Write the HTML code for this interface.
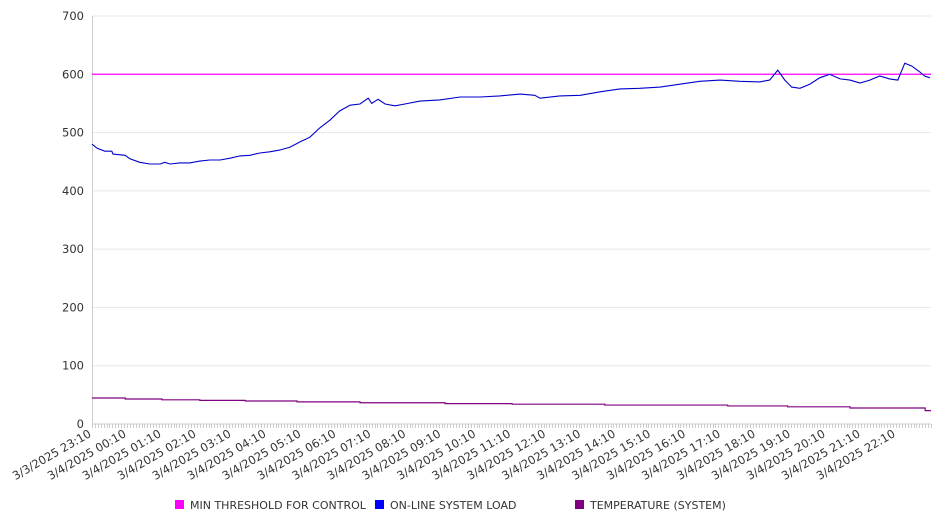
<!DOCTYPE html>
<html><head><meta charset="utf-8"><style>
html,body{margin:0;padding:0;background:#fff;}
svg{display:block;font-family:"DejaVu Sans","Liberation Sans",sans-serif;}
</style></head><body>
<svg id="chart" width="946" height="526" viewBox="0 0 946 526"></svg>
<script>
const yTicks=[0,100,200,300,400,500,600,700];
const xLabels=["3/3/2025 23:10","3/4/2025 00:10","3/4/2025 01:10","3/4/2025 02:10","3/4/2025 03:10","3/4/2025 04:10","3/4/2025 05:10","3/4/2025 06:10","3/4/2025 07:10","3/4/2025 08:10","3/4/2025 09:10","3/4/2025 10:10","3/4/2025 11:10","3/4/2025 12:10","3/4/2025 13:10","3/4/2025 14:10","3/4/2025 15:10","3/4/2025 16:10","3/4/2025 17:10","3/4/2025 18:10","3/4/2025 19:10","3/4/2025 20:10","3/4/2025 21:10","3/4/2025 22:10"];
const thresholdValue=600;
const loadTimes=[0,9,22,34,36,57,65,82,99,117,125,134,151,168,185,202,220,237,254,271,288,305,322,340,357,374,391,408,425,443,460,474,480,491,503,520,537,563,597,632,666,700,735,760,769,803,838,872,906,940,975,1009,1043,1078,1112,1146,1163,1177,1189,1201,1215,1232,1249,1266,1284,1301,1318,1335,1352,1369,1383,1395,1407,1421,1429,1438];
const loadValues=[480,473,468,468,463,461,455,449,446,446,449,446,448,448,451,453,453,456,460,461,465,467,470,475,484,492,508,521,537,547,549,559,550,557,549,546,549,554,556,561,561,563,566,564,559,563,564,570,575,576,578,583,588,590,588,587,590,607,590,578,576,583,594,600,592,590,585,590,597,592,590,619,614,604,597,594];
const tempTimes=[0,57,120,185,263,352,460,606,721,880,1091,1194,1301,1430,1440];
const tempValues=[44.6,42.9,41.5,40.5,39.5,38,36.5,35,34,32.5,31,29.5,27.5,23,23];
const ns="http://www.w3.org/2000/svg";
const svg=document.getElementById('chart');
const X0=92,X1=931,Y0=424,Y1=16;
const TMAX=1440,VMAX=700;
function xs(t){return X0+t/TMAX*(X1-X0);}
function ys(v){return Y0-v/VMAX*(Y0-Y1);}
function mk(tag,attrs){const e=document.createElementNS(ns,tag);for(const k in attrs)e.setAttribute(k,attrs[k]);svg.appendChild(e);return e;}
yTicks.forEach(v=>{
  const g=mk('line',{x1:X0,x2:X1,y1:ys(v),y2:ys(v),stroke:v===0?'#ccc':'#e8e8e8','stroke-width':1});
  
  
  const t=mk('text',{x:84,y:ys(v)+4,'text-anchor':'end','font-size':11.5,fill:'#333'});
  t.textContent=v;
  
  
});
const ax=mk('line',{x1:X0+0.5,x2:X0+0.5,y1:Y1,y2:Y0,stroke:'#ccc'});


let td='';
for(let m=0;m<=TMAX;m+=5){const x=Math.round(xs(m))+0.5;td+='M'+x+' '+Y0+'V'+(Y0+4);}
const tk=mk('path',{d:td,stroke:'#ccc','stroke-width':1});


xLabels.forEach((s,i)=>{
  const x=xs(i*60),y=436;
  const t=mk('text',{x:x,y:y,'text-anchor':'end','font-size':11.5,fill:'#333',transform:'rotate(-30 '+x+' '+y+')'});
  t.textContent=s;
  
  
});
const th=mk('line',{x1:X0,x2:X1,y1:ys(thresholdValue),y2:ys(thresholdValue),stroke:'#ff00ff','stroke-width':1.2});


let d='M'+xs(tempTimes[0])+' '+ys(tempValues[0]);
for(let i=1;i<tempTimes.length;i++){d+='L'+xs(tempTimes[i])+' '+ys(tempValues[i-1])+'L'+xs(tempTimes[i])+' '+ys(tempValues[i]);}
const tp=mk('path',{d:d,fill:'none',stroke:'#800080','stroke-width':1.2});


let ld=loadTimes.map((t,i)=>(i?'L':'M')+xs(t).toFixed(1)+' '+ys(loadValues[i]).toFixed(1)).join('');
const lp=mk('path',{d:ld,fill:'none',stroke:'#0000cc','stroke-width':1.1});


const leg=[['#ff00ff','MIN THRESHOLD FOR CONTROL',175],['#0000ff','ON-LINE SYSTEM LOAD',375],['#800080','TEMPERATURE (SYSTEM)',575]];
leg.forEach(l=>{
  const r=mk('rect',{x:l[2],y:500,width:9,height:9,fill:l[0]});
  
  
  const t=mk('text',{x:l[2]+15,y:509,'font-size':11,fill:'#333'});
  t.textContent=l[1];
  
  
});
</script>
</body></html>
